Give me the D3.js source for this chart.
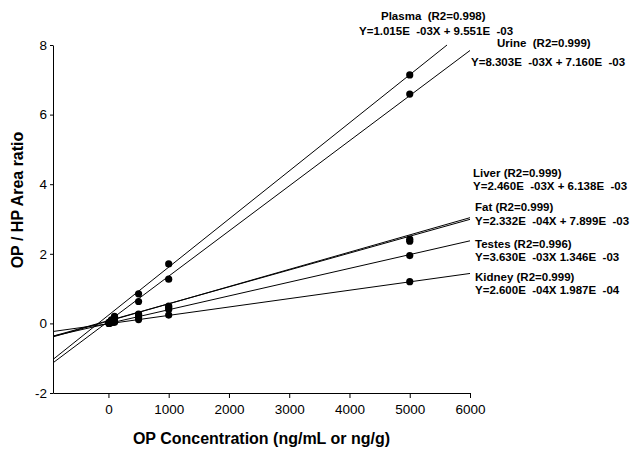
<!DOCTYPE html>
<html>
<head>
<meta charset="utf-8">
<script src="https://cdn.jsdelivr.net/npm/d3@7"></script>
<style>
  body { margin: 0; background: #fff; }
  svg { display: block; font-family: "Liberation Sans", Arial, sans-serif; }
  .axis path, .axis line { stroke: #000; }
  .axis text { font-size: 13.5px; fill: #000; }
  .eq { font-size: 11.5px; font-weight: bold; white-space: pre; }
  .title { font-size: 16px; font-weight: bold; }
</style>
</head>
<body>
<svg class="chart"></svg>
<script>
// concentrations (ng/mL or ng/g)
var conc = [10, 50, 100, 500, 1000, 5000];

// OP / HP area ratio per matrix
var plasma = [0.03, 0.10, 0.20, 0.85, 1.71, 7.14];
var urine  = [0.02, 0.08, 0.15, 0.63, 1.27, 6.59];
var liver  = [0.01, 0.04, 0.07, 0.27, 0.50, 2.42];
var fat    = [0.01, 0.03, 0.06, 0.25, 0.46, 2.36];
var testes = [0.00, 0.03, 0.05, 0.18, 0.40, 1.95];
var kidney = [0.00, 0.02, 0.03, 0.11, 0.24, 1.20];

// fitted lines as drawn (slope, intercept)
var slopes     = [1.382e-3, 1.297e-3, 4.95e-4, 4.85e-4, 3.96e-4, 2.41e-4];
var intercepts = [0.235, 0.06, 0.068, 0.08, -0.003, -0.011];

var names = ["Plasma", "Urine", "Liver", "Fat", "Testes", "Kidney"];
var r2 = ["0.998", "0.999", "0.999", "0.999", "0.996", "0.999"];
var equations = [
  "Y=1.015E  -03X + 9.551E  -03",
  "Y=8.303E  -03X + 7.160E  -03",
  "Y=2.460E  -03X + 6.138E  -03",
  "Y=2.332E  -04X + 7.899E  -03",
  "Y=3.630E  -03X 1.346E  -03",
  "Y=2.600E  -04X 1.987E  -04"
];

var xTicks = [0, 1000, 2000, 3000, 4000, 5000, 6000];
var yTicks = [-2, 0, 2, 4, 6, 8];

var series = [plasma, urine, liver, fat, testes, kidney];

// label layout: [x of name, y of name, x of equation, y of equation]
var labelPos = [
  [381, 16, 359, 31],
  [497, 43, 471, 62],
  [473, 173, 473, 186],
  [475, 207, 475, 221],
  [475, 244, 475, 257],
  [475, 277, 475, 290]
];

var margin = {top: 45, right: 163, bottom: 57, left: 53},
    width = 633 - margin.left - margin.right,
    height = 450 - margin.top - margin.bottom;

var svg = d3.select(".chart")
    .attr("width", 633)
    .attr("height", 450);

var chart = svg.append("g")
    .attr("transform", "translate(" + margin.left + "," + margin.top + ")");

var x = d3.scaleLinear()
    .domain([-920, 6000])
    .range([0, width]);

var y = d3.scaleLinear()
    .domain([-2, 8])
    .range([height, 0]);

var plain = function(d) { return String(d); };

var xAxis = d3.axisBottom(x).tickValues(xTicks).tickFormat(plain)
    .tickSize(5).tickSizeOuter(0).tickPadding(6);
var yAxis = d3.axisLeft(y).tickValues(yTicks).tickFormat(plain)
    .tickSize(3).tickSizeOuter(0).tickPadding(3);

chart.append("g")
    .attr("class", "x axis")
    .attr("transform", "translate(0," + height + ")")
    .call(xAxis);

chart.append("g")
    .attr("class", "y axis")
    .call(yAxis);

// regression lines, clipped at the top of the plot
var fits = slopes.map(function(m, i) {
  var b = intercepts[i];
  var x0 = x.domain()[0];
  var x1 = Math.min(6000, (8 - b) / m);
  return [[x0, m * x0 + b], [x1, m * x1 + b]];
});

chart.selectAll(".fit")
    .data(fits)
  .enter().append("line")
    .attr("class", "fit")
    .attr("x1", function(d) { return x(d[0][0]); })
    .attr("y1", function(d) { return y(d[0][1]); })
    .attr("x2", function(d) { return x(d[1][0]); })
    .attr("y2", function(d) { return y(d[1][1]); })
    .attr("stroke", "#000")
    .attr("stroke-width", 1);

var points = [];
series.forEach(function(s) {
  s.forEach(function(v, j) { points.push({c: conc[j], v: v}); });
});

chart.selectAll(".dot")
    .data(points)
  .enter().append("circle")
    .attr("class", "dot")
    .attr("cx", function(d) { return x(d.c); })
    .attr("cy", function(d) { return y(d.v); })
    .attr("r", 3.6)
    .attr("fill", "#000");

// series labels with equations
names.forEach(function(n, i) {
  var p = labelPos[i];
  svg.append("text")
      .attr("class", "eq")
      .attr("x", p[0])
      .attr("y", p[1])
      .attr("dy", "0.35em")
      .text(n + (i < 2 ? "  " : " ") + "(R2=" + r2[i] + ")");
  svg.append("text")
      .attr("class", "eq")
      .attr("x", p[2])
      .attr("y", p[3])
      .attr("dy", "0.35em")
      .text(equations[i]);
});

svg.append("text")
    .attr("class", "title")
    .attr("x", margin.left + width / 2)
    .attr("y", 444)
    .style("text-anchor", "middle")
    .text("OP Concentration (ng/mL or ng/g)");

svg.append("text")
    .attr("class", "title")
    .attr("transform", "translate(23,200) rotate(-90)")
    .style("text-anchor", "middle")
    .text("OP / HP Area ratio");
</script>
</body>
</html>
